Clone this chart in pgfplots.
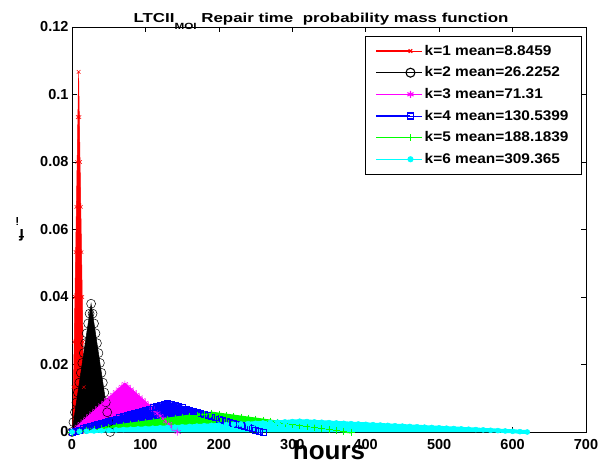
\documentclass[border=0pt]{standalone}
\usepackage{pgfplots}
\pgfplotsset{compat=1.18}
\usepackage{pgfplotstable}
\usepackage{graphicx}
\usepackage{fontspec}
\setmainfont{Liberation Sans}

\definecolor{mred}{RGB}{255,0,0}
\definecolor{mmag}{RGB}{255,0,255}
\definecolor{mblue}{RGB}{0,0,255}
\definecolor{mgreen}{RGB}{0,255,0}
\definecolor{mcyan}{RGB}{0,255,255}
\newcommand\lgt[1]{\scalebox{1.1}[1]{#1}}

\pgfplotstableread{
x y
1 0
2 0.0133
3 0.0267
4 0.04
5 0.0533
6 0.0667
7 0.08
8 0.0933
9 0.1067
10 0.0933
11 0.08
12 0.0667
13 0.0533
14 0.04
15 0.0267
16 0.0133
17 0
}\redt

\pgfplotstableread{
x y
0 0
2 0.00292
4 0.00585
6 0.00877
8 0.01169
10 0.01462
12 0.01754
14 0.02046
16 0.02338
18 0.02631
20 0.02923
22 0.03215
24 0.03508
26 0.038
28 0.03508
30 0.03215
32 0.02923
34 0.02631
36 0.02338
38 0.02046
40 0.01754
42 0.01462
44 0.01169
46 0.00877
48 0.00585
50 0.00292
52 0
}\blackt

\pgfplotstableread{
x y
0 0
4 0.000789
8 0.001578
12 0.002367
16 0.003156
20 0.003944
24 0.004733
28 0.005522
32 0.006311
36 0.0071
40 0.007889
44 0.008678
48 0.009467
52 0.010256
56 0.011044
60 0.011833
64 0.012622
68 0.013411
72 0.0142
76 0.013411
80 0.012622
84 0.011833
88 0.011044
92 0.010256
96 0.009467
100 0.008678
104 0.007889
108 0.0071
112 0.006311
116 0.005522
120 0.004733
124 0.003944
128 0.003156
132 0.002367
136 0.001578
140 0.000789
144 0
}\magt

\pgfplotstableread{
x y
0 0
5 0.000327
10 0.000654
15 0.000981
20 0.001308
25 0.001635
30 0.001962
35 0.002288
40 0.002615
45 0.002942
50 0.003269
55 0.003596
60 0.003923
65 0.00425
70 0.004577
75 0.004904
80 0.00523
85 0.005557
90 0.005884
95 0.006211
100 0.006538
105 0.006865
110 0.007192
115 0.007519
120 0.007846
125 0.008173
130 0.0085
135 0.008173
140 0.007846
145 0.007519
150 0.007192
155 0.006865
160 0.006538
165 0.006211
170 0.005884
175 0.005557
180 0.00523
185 0.004904
190 0.004577
195 0.00425
200 0.003923
205 0.003596
210 0.003269
215 0.002942
220 0.002615
225 0.002288
230 0.001962
235 0.001635
240 0.001308
245 0.000981
250 0.000654
255 0.000327
260 0
}\bluet

\pgfplotstableread{
x y
0 0
10 0.000295
20 0.000589
30 0.000884
40 0.001179
50 0.001474
60 0.001768
70 0.002063
80 0.002358
90 0.002653
100 0.002947
110 0.003242
120 0.003537
130 0.003832
140 0.004126
150 0.004421
160 0.004716
170 0.005011
180 0.005305
190 0.0056
200 0.005305
210 0.005011
220 0.004716
230 0.004421
240 0.004126
250 0.003832
260 0.003537
270 0.003242
280 0.002947
290 0.002653
300 0.002358
310 0.002063
320 0.001768
330 0.001474
340 0.001179
350 0.000884
360 0.000589
370 0.000295
380 0
}\greent

\pgfplotstableread{
x y
0 0
10 0.000103
20 0.000206
30 0.00031
40 0.000413
50 0.000516
60 0.000619
70 0.000723
80 0.000826
90 0.000929
100 0.001032
110 0.001135
120 0.001239
130 0.001342
140 0.001445
150 0.001548
160 0.001652
170 0.001755
180 0.001858
190 0.001961
200 0.002065
210 0.002168
220 0.002271
230 0.002374
240 0.002477
250 0.002581
260 0.002684
270 0.002787
280 0.00289
290 0.002994
300 0.003097
310 0.0032
320 0.003097
330 0.002994
340 0.00289
350 0.002787
360 0.002684
370 0.002581
380 0.002477
390 0.002374
400 0.002271
410 0.002168
420 0.002065
430 0.001961
440 0.001858
450 0.001755
460 0.001652
470 0.001548
480 0.001445
490 0.001342
500 0.001239
510 0.001135
520 0.001032
530 0.000929
540 0.000826
550 0.000723
560 0.000619
570 0.000516
580 0.000413
590 0.00031
600 0.000206
610 0.000103
620 0
}\cyant

\begin{document}
\begin{tikzpicture}
\useasboundingbox (-72pt,-32pt) rectangle (528pt,432pt);
\begin{axis}[
  scale only axis,
  width=514pt, height=405pt,
  xmin=0, xmax=700, ymin=0, ymax=0.12,
  xtick={0,100,...,700},
  ytick={0,0.02,0.04,0.06,0.08,0.1,0.12},
  yticklabels={0,0.02,0.04,0.06,0.08,0.1,0.12},
  scaled y ticks=false,
  /pgf/number format/assume math mode=true,
  tick align=inside,
  major tick length=5pt,
  tick style={black, line width=0.6pt},
  axis line style={black, line width=0.8pt},
  ticklabel style={font=\bfseries\fontsize{14.5}{16}\selectfont},
  xticklabel style={yshift=-4pt},
  clip=false,
  title={\scalebox{1.3}[1]{LTCII\raisebox{-7pt}{\fontsize{9}{10}\selectfont MOI} Repair time\ \ probability mass function}},
  title style={font=\bfseries\fontsize{13}{14}\selectfont, at={(axis description cs:0.5,1)}, anchor=base, yshift=-2pt, xshift=-8pt},
  xlabel={hours},
  xlabel style={font=\bfseries\fontsize{26}{28}\selectfont, at={(axis description cs:0.5,0)}, anchor=base, yshift=-27.5pt},
  ylabel={f\raisebox{-12pt}{\fontsize{11}{12}\selectfont i}},
  ylabel style={font=\bfseries\fontsize{16}{18}\selectfont, at={(axis description cs:-0.101,0.5)}, anchor=base, rotate=90},
  legend style={font=\bfseries\fontsize{14}{16}\selectfont, draw=black, line width=0.6pt, at={(0.992,0.978)}, anchor=north east, legend cell align=left, row sep=6pt, inner xsep=11pt, inner ysep=7pt},
  legend image code/.code={\draw[line width=1.1pt, mark repeat=2,mark phase=2] plot coordinates {(0pt,0pt) (34pt,0pt)}; \path (0pt,0pt) -- (46pt,0pt);},
]
\addplot[draw=none, fill=mred, forget plot] table {\redt} \closedcycle;
\addplot[mred, line width=0.5pt, mark=x, mark size=2.5pt] table {\redt};
\addlegendentry{\lgt{k=1 mean=8.8459}}
\addplot[draw=none, fill=black, forget plot] table {\blackt} \closedcycle;
\addplot[black, line width=0.5pt, mark=o, mark size=4.5pt] table {\blackt};
\addlegendentry{\lgt{k=2 mean=26.2252}}
\addplot[draw=none, fill=mmag, forget plot] table {\magt} \closedcycle;
\addplot[mmag, line width=2.5pt, line join=round, forget plot] table {\magt};
\addplot[mmag, line width=0.5pt, mark=asterisk, mark size=3.5pt] table {\magt};
\addlegendentry{\lgt{k=3 mean=71.31}}
\addplot[draw=none, fill=mblue, forget plot] table {\bluet} \closedcycle;
\addplot[mblue, line width=4pt, line join=round, forget plot] table {\bluet};
\addplot[mblue, line width=0.5pt, mark=square, mark size=3pt] table {\bluet};
\addlegendentry{\lgt{k=4 mean=130.5399}}
\addplot[draw=none, fill=mgreen, forget plot] table {\greent} \closedcycle;
\addplot[mgreen, line width=3pt, line join=round, forget plot] table {\greent};
\addplot[mgreen, line width=0.5pt, mark=+, mark size=3.5pt] table {\greent};
\addlegendentry{\lgt{k=5 mean=188.1839}}
\addplot[draw=none, fill=mcyan, forget plot] table {\cyant} \closedcycle;
\addplot[mcyan, line width=4pt, line join=round, forget plot] table {\cyant};
\addplot[mcyan, line width=0.5pt, mark=*, mark size=2.5pt] table {\cyant};
\addlegendentry{\lgt{k=6 mean=309.365}}
\end{axis}
\end{tikzpicture}
\end{document}
